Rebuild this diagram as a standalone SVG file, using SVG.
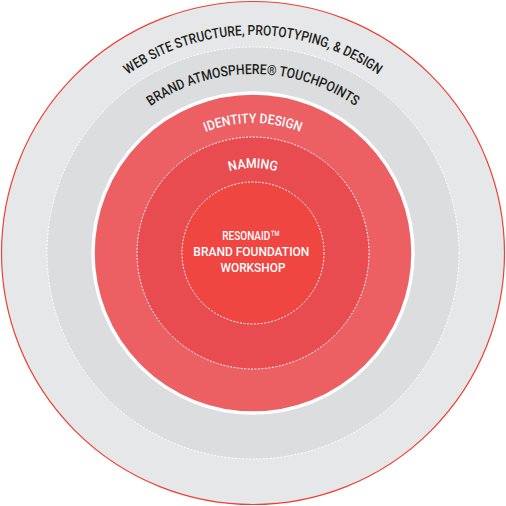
<svg xmlns="http://www.w3.org/2000/svg" width="506" height="506" viewBox="0 0 506 506">
<style>
.lbl{font-family:Roboto,"Liberation Sans",Arial,sans-serif;font-size:14px;font-weight:500;}
.dark{fill:#231f20;}
.light{fill:#ffffff;}
.tm{font-family:"Liberation Sans",Arial,sans-serif;font-weight:400;}
.dash{fill:none;stroke:#ffffff;stroke-width:1;stroke-dasharray:2 1.5;}
</style>
<defs>
<path id="arcOuter" d="M 35 253 A 218 218 0 0 1 471 253"/>
<path id="arcBrand" d="M 74 253 A 179 179 0 0 1 432 253"/>
<path id="arcIdentity" d="M 123 253 A 130 130 0 0 1 383 253"/>
<path id="arcNaming" d="M 168 253 A 85 85 0 0 1 338 253"/>
</defs>
<rect width="506" height="506" fill="#ffffff"/>
<g id="web-site">
<circle cx="253" cy="253" r="251.5" fill="#e6e7e8" stroke="#ee4036" stroke-width="1.2"/>
<text class="lbl dark"><textPath href="#arcOuter" startOffset="50%" text-anchor="middle" textLength="267" lengthAdjust="spacingAndGlyphs">WEB SITE STRUCTURE, PROTOTYPING, &amp; DESIGN</textPath></text>
</g>
<g id="brand-atmosphere">
<circle cx="253" cy="253" r="206" fill="#dcdddf"/>
<circle cx="253" cy="253" r="206" class="dash"/>
<text class="lbl dark"><textPath href="#arcBrand" startOffset="50%" text-anchor="middle" textLength="218" lengthAdjust="spacingAndGlyphs">BRAND ATMOSPHERE® TOUCHPOINTS</textPath></text>
</g>
<g id="identity-design">
<circle cx="253" cy="253" r="160" fill="#ec6064" stroke="#ffffff" stroke-width="3.5"/>
<text class="lbl light" style="font-size:13.5px"><textPath href="#arcIdentity" startOffset="50%" text-anchor="middle" textLength="97" lengthAdjust="spacingAndGlyphs">IDENTITY DESIGN</textPath></text>
</g>
<g id="naming">
<circle cx="253" cy="253" r="116" fill="#e84c51"/>
<circle cx="253" cy="253" r="116" class="dash"/>
<text class="lbl light" style="font-size:13.5px"><textPath href="#arcNaming" startOffset="50%" text-anchor="middle" textLength="48" lengthAdjust="spacingAndGlyphs">NAMING</textPath></text>
</g>
<g id="brand-foundation">
<circle cx="253" cy="253" r="71" fill="#ef4641"/>
<circle cx="253" cy="253" r="71" class="dash"/>
<text class="lbl light" text-anchor="middle" style="font-size:13.5px">
<tspan x="253" y="240" textLength="58" lengthAdjust="spacingAndGlyphs">RESONAID<tspan class="tm">™</tspan></tspan>
<tspan x="253" y="256" textLength="116" lengthAdjust="spacingAndGlyphs">BRAND FOUNDATION</tspan>
<tspan x="253" y="272" textLength="65" lengthAdjust="spacingAndGlyphs">WORKSHOP</tspan>
</text>
</g>
</svg>
